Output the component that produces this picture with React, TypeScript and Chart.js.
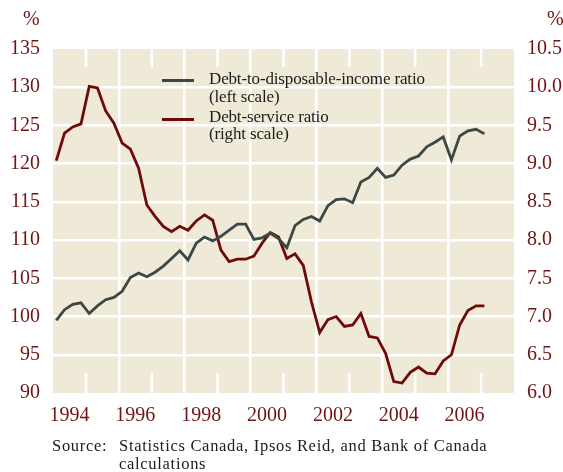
import React, { useEffect, useRef } from "react";
import { Chart, registerables } from "chart.js";

Chart.register(...registerables);

// Quarterly periods, 1994Q1 .. 2007Q1
const quarters: string[] = [];
for (let y = 1994; y <= 2007; y++) {
  for (let q = 1; q <= 4; q++) quarters.push(`${y}Q${q}`);
}

// Debt-to-disposable-income ratio (left scale, %)
const debtToIncome = [
  99.5, 100.9, 101.6, 101.8, 100.4, 101.4, 102.2, 102.5, 103.3, 105.1,
  105.7, 105.2, 105.8, 106.6, 107.6, 108.6, 107.4, 109.6, 110.4, 109.9,
  110.5, 111.3, 112.1, 112.1, 110.1, 110.3, 110.9, 110.2, 109.0, 111.9,
  112.7, 113.1, 112.5, 114.5, 115.3, 115.4, 114.9, 117.6, 118.2, 119.4,
  118.2, 118.5, 119.8, 120.6, 121.0, 122.2, 122.8, 123.5, 120.5, 123.6,
  124.3, 124.5, 123.9,
];

// Debt-service ratio (right scale, %)
const debtService = [
  9.04, 9.40, 9.48, 9.52, 10.01, 9.99, 9.69, 9.53, 9.27, 9.19,
  8.94, 8.46, 8.31, 8.18, 8.11, 8.18, 8.13, 8.25, 8.33, 8.26,
  7.87, 7.72, 7.75, 7.75, 7.79, 7.96, 8.10, 8.04, 7.76, 7.82,
  7.67, 7.19, 6.79, 6.96, 7.00, 6.87, 6.89, 7.04, 6.74, 6.72,
  6.52, 6.15, 6.13, 6.27, 6.34, 6.26, 6.25, 6.42, 6.50, 6.89,
  7.08, 7.14, 7.14,
];

const leftTicks = [90, 95, 100, 105, 110, 115, 120, 125, 130, 135];
const rightTicks = [6.0, 6.5, 7.0, 7.5, 8.0, 8.5, 9.0, 9.5, 10.0, 10.5];
const yearLabels = ["1994", "1996", "1998", "2000", "2002", "2004", "2006"];
const gridYears = [1996, 1998, 2000, 2002, 2004, 2006];
const shortTickYears = [1995, 1997, 1999, 2001, 2003, 2005, 2007];

const seriesNames = ["Debt-to-disposable-income ratio", "Debt-service ratio"];
const seriesNotes = ["(left scale)", "(right scale)"];
const sourceLabel = "Source:";
const sourceText = "Statistics Canada, Ipsos Reid, and Bank of Canada";
const sourceText2 = "calculations";

const BG = "#EFEAD8";
const RED = "#6E0A0A";
const GRAY = "#3C4845";
const TICK = "#701414";
const FONT = "'Liberation Serif', 'Times New Roman', serif";

const quarterToX = (label: string) => {
  const y = Number(label.slice(0, 4));
  const q = Number(label.slice(5));
  return y + (q - 1) / 4 + 0.1;
};

const xTickVals: number[] = [];
for (let v = 1994; v <= 2008; v += 0.5) xTickVals.push(v);

const decorPlugin = {
  id: "decor",
  beforeDraw(chart: any) {
    const { ctx, chartArea } = chart;
    ctx.save();
    ctx.fillStyle = BG;
    ctx.fillRect(chartArea.left, chartArea.top, chartArea.right - chartArea.left, chartArea.bottom - chartArea.top);
    ctx.restore();
  },
  beforeDatasetsDraw(chart: any) {
    const { ctx, chartArea, scales } = chart;
    const x = scales.x;
    ctx.save();
    ctx.strokeStyle = "#ffffff";
    ctx.lineWidth = 2.5;
    for (const yr of shortTickYears) {
      const px = x.getPixelForValue(yr);
      if (px < chartArea.left + 1 || px > chartArea.right - 1) continue;
      ctx.beginPath();
      ctx.moveTo(px, chartArea.top);
      ctx.lineTo(px, chartArea.top + 18);
      ctx.moveTo(px, chartArea.bottom - 20);
      ctx.lineTo(px, chartArea.bottom);
      ctx.stroke();
    }
    ctx.restore();
  },
};

function ChartCanvas() {
  const ref = useRef<HTMLCanvasElement | null>(null);
  useEffect(() => {
    if (!ref.current) return;
    const chart = new Chart(ref.current, {
      type: "line",
      data: {
        datasets: [
          {
            label: seriesNames[0],
            data: debtToIncome.map((v, i) => ({ x: quarterToX(quarters[i]), y: v })),
            borderColor: GRAY,
            borderWidth: 2.8,
            yAxisID: "y",
            pointRadius: 0,
            tension: 0,
          },
          {
            label: seriesNames[1],
            data: debtService.map((v, i) => ({ x: quarterToX(quarters[i]), y: v })),
            borderColor: RED,
            borderWidth: 2.8,
            yAxisID: "y1",
            pointRadius: 0,
            tension: 0,
          },
        ],
      },
      options: {
        animation: false,
        responsive: false,
        maintainAspectRatio: false,
        layout: { padding: { top: 49, left: 0, right: 0, bottom: 0 } },
        plugins: { legend: { display: false }, tooltip: { enabled: false } },
        scales: {
          x: {
            type: "linear",
            min: 1994,
            max: 2008,
            afterBuildTicks: (axis: any) => {
              axis.ticks = xTickVals.map((v) => ({ value: v }));
            },
            afterFit: (axis: any) => {
              axis.height = 79;
            },
            border: { display: false },
            grid: {
              drawTicks: false,
              lineWidth: 2.5,
              color: (ctx: any) =>
                ctx.tick && gridYears.includes(ctx.tick.value) ? "#ffffff" : "rgba(0,0,0,0)",
            },
            ticks: {
              autoSkip: false,
              maxRotation: 0,
              minRotation: 0,
              padding: 11,
              color: TICK,
              font: { family: FONT, size: 20 },
              callback: (v: any) => {
                const lbl = String(Number(v) - 0.5);
                return yearLabels.includes(lbl) ? lbl : "";
              },
            },
          },
          y: {
            position: "left",
            min: 90,
            max: 135,
            afterBuildTicks: (axis: any) => {
              axis.ticks = leftTicks.map((v) => ({ value: v }));
            },
            afterFit: (axis: any) => {
              axis.width = 53;
            },
            border: { display: false },
            grid: {
              drawTicks: false,
              lineWidth: 2.5,
              color: (ctx: any) =>
                ctx.tick && (ctx.tick.value === 90 || ctx.tick.value === 135) ? "rgba(0,0,0,0)" : "#ffffff",
            },
            ticks: {
              padding: 13,
              color: TICK,
              font: { family: FONT, size: 20 },
              callback: (v: any) => String(v),
            },
          },
          y1: {
            position: "right",
            min: 6,
            max: 10.5,
            afterBuildTicks: (axis: any) => {
              axis.ticks = rightTicks.map((v) => ({ value: v }));
            },
            afterFit: (axis: any) => {
              axis.width = 49;
            },
            border: { display: false },
            grid: { display: false, drawTicks: false },
            ticks: {
              padding: 13,
              color: TICK,
              font: { family: FONT, size: 20 },
              callback: (v: any) => Number(v).toFixed(1),
            },
          },
        },
      } as any,
      plugins: [decorPlugin],
    });
    return () => chart.destroy();
  }, []);
  return <canvas ref={ref} width={563} height={472} style={{ display: "block", width: 563, height: 472 }} />;
}

const abs = (left: number, top: number, extra: React.CSSProperties = {}): React.CSSProperties => ({
  position: "absolute",
  left,
  top,
  whiteSpace: "nowrap",
  fontFamily: FONT,
  ...extra,
});

export default function App() {
  const legendText: React.CSSProperties = { fontSize: 17, lineHeight: "18px", color: "#1c1c1c", letterSpacing: "-0.15px" };
  const srcText: React.CSSProperties = { fontSize: 16.5, lineHeight: "18px", color: "#1c1c1c", letterSpacing: "0.7px" };
  return (
    <div style={{ position: "fixed", left: 0, top: 0, width: 563, height: 472, background: "#ffffff", overflow: "hidden" }}>
      <ChartCanvas />
      <div style={abs(23, 6.3, { fontSize: 20, lineHeight: "24px", color: TICK })}>%</div>
      <div style={abs(547, 6.3, { fontSize: 20, lineHeight: "24px", color: TICK })}>%</div>

      <div style={{ position: "absolute", left: 162, top: 79.3, width: 32, height: 3, background: GRAY }} />
      <div style={abs(209, 70.0, legendText)}>{seriesNames[0]}</div>
      <div style={abs(209, 87.7, legendText)}>{seriesNotes[0]}</div>
      <div style={{ position: "absolute", left: 162, top: 117.9, width: 32, height: 3, background: RED }} />
      <div style={abs(209, 108.3, legendText)}>{seriesNames[1]}</div>
      <div style={abs(209, 125.0, legendText)}>{seriesNotes[1]}</div>

      <div style={abs(52, 437.3, srcText)}>{sourceLabel}</div>
      <div style={abs(119, 437.3, srcText)}>{sourceText}</div>
      <div style={abs(119, 454.9, srcText)}>{sourceText2}</div>
    </div>
  );
}
